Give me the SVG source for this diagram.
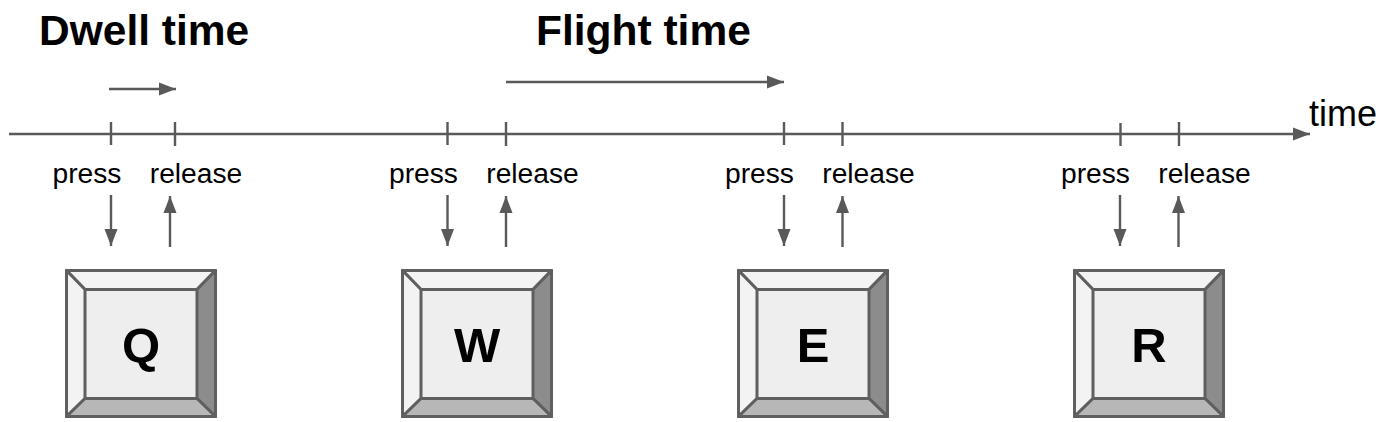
<svg xmlns="http://www.w3.org/2000/svg" width="1380" height="422" viewBox="0 0 1380 422">
<style>
.l{stroke:#595959;stroke-width:2.4;fill:none}
.a{stroke:#595959;stroke-width:2.4;fill:none;marker-end:url(#ah)}
text{font-family:"Liberation Sans",Arial,sans-serif}
.t{font-size:42.500px;font-weight:bold;fill:#000}
.s{font-size:28.200px;fill:#000;text-anchor:middle}
.k{font-size:49px;font-weight:bold;fill:#000;text-anchor:middle}
.b{stroke:#5f5f5f;stroke-width:3;stroke-linejoin:round}
</style>
<defs>
<marker id="ah" markerUnits="userSpaceOnUse" markerWidth="18" markerHeight="14" refX="17" refY="7" orient="auto"><path d="M0 0.500L17 7L0 13.500Z" fill="#595959"/></marker>
<g id="key">
<rect class="b" x="66.500" y="270.500" width="149" height="146" fill="#eee"/>
<path class="b" d="M66.500 270.500L215.500 270.500L197 289.500L85 289.500Z" fill="#f3f3f3"/>
<path class="b" d="M66.500 270.500L85 289.500L85 398.500L66.500 416.500Z" fill="#f3f3f3"/>
<path class="b" d="M215.500 270.500L197 289.500L197 398.500L215.500 416.500Z" fill="#8c8c8c"/>
<path class="b" d="M66.500 416.500L85 398.500L197 398.500L215.500 416.500Z" fill="#b7b7b7"/>
</g>
</defs>
<g id="connectors">
<path class="a" d="M9 134L1310 134"/>
<path class="a" d="M109 89L176 89"/>
<path class="a" d="M506 82L784 82"/>
<path class="l" d="M111 122V145M175 122V146M447.500 122V145M506 122V146M784 122V145M842.500 122V146M1120.500 123V146M1179 122V146"/>
<path class="a" d="M111 195V246"/>
<path class="a" d="M170 247V196"/>
<path class="a" d="M447.500 195V246"/>
<path class="a" d="M506 247V196"/>
<path class="a" d="M784 195V246"/>
<path class="a" d="M842.500 247V196"/>
<path class="a" d="M1120 195V246"/>
<path class="a" d="M1178.500 247V196"/>
</g>
<g id="labels">
<text class="t" x="39" y="45">Dwell time</text>
<text class="t" x="536" y="45">Flight time</text>
<text x="1309" y="126" font-size="36" fill="#000">time</text>
<text class="s" x="87" y="183">press</text><text class="s" x="196" y="183">release</text>
<text class="s" x="423.500" y="183">press</text><text class="s" x="532.500" y="183">release</text>
<text class="s" x="759.500" y="183">press</text><text class="s" x="868.500" y="183">release</text>
<text class="s" x="1095.500" y="183">press</text><text class="s" x="1204.500" y="183">release</text>
</g>
<g id="key-q"><use href="#key"/><text class="k" x="141" y="362">Q</text></g>
<g id="key-w"><use href="#key" x="336"/><text class="k" x="477" y="362">W</text></g>
<g id="key-e"><use href="#key" x="672"/><text class="k" x="813" y="362">E</text></g>
<g id="key-r"><use href="#key" x="1008"/><text class="k" x="1149" y="362">R</text></g>
</svg>
